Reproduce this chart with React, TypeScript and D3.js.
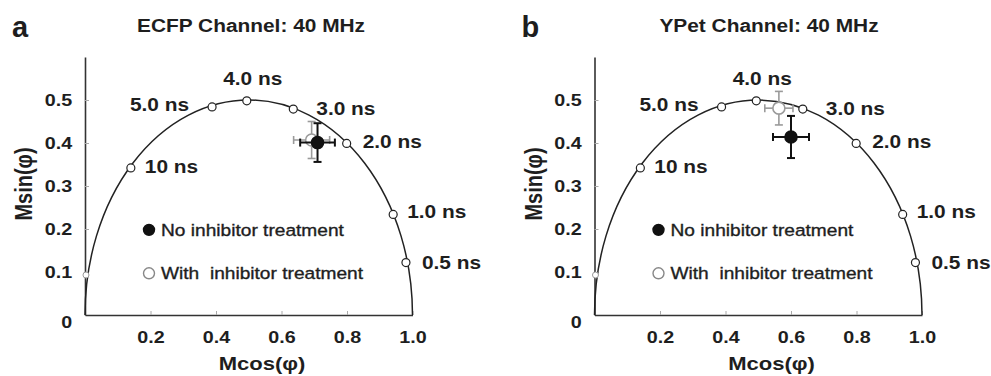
import React, { useRef, useEffect } from "react";
import * as d3 from "d3";

const panelLetters = ["a", "b"];
const panelTitles = ["ECFP Channel: 40 MHz", "YPet Channel: 40 MHz"];

const xTicks = [0.2, 0.4, 0.6, 0.8, 1.0];
const yTicks = [0, 0.1, 0.2, 0.3, 0.4, 0.5];

// reference lifetimes sitting on the universal circle (40 MHz)
const lifetimeLabels = ["0.5 ns", "1.0 ns", "2.0 ns", "3.0 ns", "4.0 ns", "5.0 ns", "10 ns"];
const lifetimeG = [0.98, 0.941, 0.799, 0.636, 0.494, 0.388, 0.14];
const lifetimeS = [0.122, 0.234, 0.399, 0.479, 0.498, 0.484, 0.342];
const farMarkerG = 0.003;
const farMarkerS = 0.093;

// measured points, one value per panel (a, b)
const noInhibitorG = [0.71, 0.6];
const noInhibitorS = [0.401, 0.414];
const noInhibitorGErr = [0.053, 0.055];
const noInhibitorSErr = [0.045, 0.049];

const withInhibitorG = [0.692, 0.563];
const withInhibitorS = [0.407, 0.481];
const withInhibitorGErr = [0.055, 0.043];
const withInhibitorSErr = [0.043, 0.039];

const legendLabels = ["No inhibitor treatment", "With  inhibitor treatment"];

const W = 991;
const H = 376;
const SX = 1.16; // the figure's lettering is stretched sideways
const FONT = "'Liberation Sans', Arial, sans-serif";
const INK = "#1e1e1e";
const GREY = "#9a9a9a";

// label placement next to each lifetime marker (px)
const labelOffsets = [
  { dx: 16, dy: 6, anchor: "start" },
  { dx: 14, dy: 4, anchor: "start" },
  { dx: 16, dy: 5, anchor: "start" },
  { dx: 23, dy: 6, anchor: "start" },
  { dx: 6, dy: -16, anchor: "middle" },
  { dx: -23, dy: 4, anchor: "end" },
  { dx: 14, dy: 5, anchor: "start" },
];

const panelX = [85, 594.5];
const titleX = [166, 174.5];

const App = () => {
  const ref = useRef(null);

  useEffect(() => {
    const svg = d3.select(ref.current);
    svg.selectAll("*").remove();

    const stretched = (g, x, y, str, size, weight, anchor) =>
      g
        .append("text")
        .attr("transform", `translate(${x},${y}) scale(${SX},1)`)
        .attr("text-anchor", anchor)
        .attr("font-family", FONT)
        .attr("font-size", size)
        .attr("font-weight", weight)
        .attr("fill", INK)
        .style("white-space", "pre")
        .text(str);

    panelX.forEach((x0, p) => {
      const xScale = d3.scaleLinear().domain([0, 1]).range([x0, x0 + 327.5]);
      const yScale = d3.scaleLinear().domain([0, 0.6]).range([315, 57]);
      const g = svg.append("g");

      // panel letter + title
      g.append("text")
        .attr("x", x0 - 73)
        .attr("y", 37)
        .attr("font-family", FONT)
        .attr("font-size", 29)
        .attr("font-weight", "bold")
        .attr("fill", INK)
        .text(panelLetters[p]);
      stretched(g, x0 + titleX[p], 32, panelTitles[p], 18, "bold", "middle");

      // axes
      const xAxis = g
        .append("g")
        .attr("transform", `translate(0,${yScale(0)})`)
        .call(
          d3.axisBottom(xScale).tickValues(xTicks).tickSize(-4).tickSizeOuter(0).tickPadding(16)
            .tickFormat(d3.format(".1f"))
        );
      const yAxis = g
        .append("g")
        .attr("transform", `translate(${x0},0)`)
        .call(
          d3.axisLeft(yScale).tickValues(yTicks).tickSize(-4).tickSizeOuter(0).tickPadding(11)
            .tickFormat((d) => (d === 0 ? "0" : d3.format(".1f")(d)))
        );
      [xAxis, yAxis].forEach((ax) => {
        ax.select(".domain").attr("stroke", "#333").attr("stroke-width", 1.6);
        ax.selectAll(".tick line").attr("stroke", "#aaa");
        ax.selectAll(".tick text")
          .attr("font-family", FONT)
          .attr("font-size", 17)
          .attr("font-weight", "bold")
          .attr("fill", INK)
          .attr("transform", `scale(${SX},1)`);
      });
      xAxis.selectAll(".tick text").attr("x", 0);
      yAxis.selectAll(".tick line").filter((d) => d === 0).remove();
      yAxis.selectAll(".tick text").filter((d) => d === 0).attr("dy", "0.75em");

      // axis titles
      stretched(g, x0 + 177, 370, "Mcos(φ)", 19, "bold", "middle");
      g.append("text")
        .attr("transform", `translate(${x0 - 53},${184}) rotate(-90) scale(1,${SX})`)
        .attr("text-anchor", "middle")
        .attr("font-family", FONT)
        .attr("font-size", 20)
        .attr("font-weight", "bold")
        .attr("fill", INK)
        .text("Msin(φ)");

      // universal semicircle
      g.append("path")
        .attr(
          "d",
          `M${xScale(0)},${yScale(0)} A${xScale(0.5) - xScale(0)},${yScale(0) - yScale(0.5)} 0 0 1 ${xScale(1)},${yScale(0)}`
        )
        .attr("fill", "none")
        .attr("stroke", "#222")
        .attr("stroke-width", 1.5);

      g.append("circle")
        .attr("cx", xScale(farMarkerG))
        .attr("cy", yScale(farMarkerS))
        .attr("r", 3)
        .attr("fill", "#fff")
        .attr("stroke", GREY)
        .attr("stroke-width", 1);

      lifetimeLabels.forEach((lab, i) => {
        const cx = xScale(lifetimeG[i]);
        const cy = yScale(lifetimeS[i]);
        g.append("circle")
          .attr("cx", cx)
          .attr("cy", cy)
          .attr("r", 4)
          .attr("fill", "#fff")
          .attr("stroke", "#222")
          .attr("stroke-width", 1.2);
        const o = labelOffsets[i];
        stretched(g, cx + o.dx, cy + o.dy, lab, 18, "bold", o.anchor);
      });

      // points with error bars: with inhibitor (grey) under no inhibitor (black)
      const series = [
        { gv: withInhibitorG, sv: withInhibitorS, ge: withInhibitorGErr, se: withInhibitorSErr, col: GREY, fill: "#fff", w: 1.6 },
        { gv: noInhibitorG, sv: noInhibitorS, ge: noInhibitorGErr, se: noInhibitorSErr, col: "#111", fill: "#111", w: 2 },
      ];
      series.forEach((s) => {
        const cx = xScale(s.gv[p]);
        const cy = yScale(s.sv[p]);
        const x1 = xScale(s.gv[p] - s.ge[p]);
        const x2 = xScale(s.gv[p] + s.ge[p]);
        const y1 = yScale(s.sv[p] + s.se[p]);
        const y2 = yScale(s.sv[p] - s.se[p]);
        const cap = 4;
        const bars = [
          [x1, cy, x2, cy],
          [cx, y1, cx, y2],
          [x1, cy - cap, x1, cy + cap],
          [x2, cy - cap, x2, cy + cap],
          [cx - cap, y1, cx + cap, y1],
          [cx - cap, y2, cx + cap, y2],
        ];
        g.selectAll(null)
          .data(bars)
          .enter()
          .append("line")
          .attr("x1", (d) => d[0])
          .attr("y1", (d) => d[1])
          .attr("x2", (d) => d[2])
          .attr("y2", (d) => d[3])
          .attr("stroke", s.col)
          .attr("stroke-width", s.w);
        g.append("circle")
          .attr("cx", cx)
          .attr("cy", cy)
          .attr("r", 6)
          .attr("fill", s.fill)
          .attr("stroke", s.col)
          .attr("stroke-width", 1.6);
      });

      // legend
      const legY = [yScale(0.198), yScale(0.097)];
      legendLabels.forEach((lab, i) => {
        const lx = x0 + 64;
        g.append("circle")
          .attr("cx", lx)
          .attr("cy", legY[i])
          .attr("r", 5.5)
          .attr("fill", i === 0 ? "#111" : "#fff")
          .attr("stroke", i === 0 ? "#111" : "#888")
          .attr("stroke-width", 1.4);
        stretched(g, lx + 12, legY[i] + 6, lab, 16.5, "normal", "start")
          .attr("stroke", INK)
          .attr("stroke-width", 0.35);
      });
    });
  }, []);

  return (
    <svg
      ref={ref}
      width={W}
      height={H}
      style={{ position: "absolute", left: 0, top: 0, background: "#fff" }}
    />
  );
};

export default App;
